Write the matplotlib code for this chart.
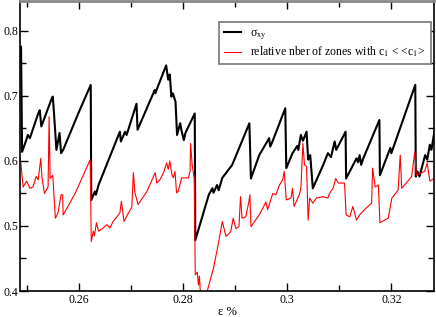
import numpy as np
import matplotlib
matplotlib.use("Agg")
import matplotlib.pyplot as plt
from matplotlib.ticker import MultipleLocator

plt.rcParams['font.family'] = ['Liberation Serif', 'DejaVu Serif']
plt.rcParams['mathtext.fontset'] = 'stix'

# sigma_xy (black)
sig_x = [0.2486, 0.2488, 0.2490, 0.2498, 0.2501, 0.2505, 0.2521, 0.2524, 0.2527, 0.2546,
         0.2549, 0.2551, 0.2556, 0.2562, 0.2565, 0.2569, 0.2598, 0.2622, 0.2623, 0.2630,
         0.2632, 0.2637, 0.2678, 0.2680, 0.2688, 0.2691, 0.2710, 0.2712, 0.2745, 0.2746,
         0.2767, 0.2771, 0.2774, 0.2777, 0.2780, 0.2785, 0.2788, 0.2794, 0.2797, 0.2801,
         0.2804, 0.2822, 0.2823, 0.2849, 0.2856, 0.2858, 0.2865, 0.2868, 0.2875, 0.2894,
         0.2927, 0.2930, 0.2946, 0.2965, 0.2967, 0.2971, 0.2996, 0.2998, 0.3010, 0.3019,
         0.3021, 0.3026, 0.3030, 0.3037, 0.3040, 0.3044, 0.3049, 0.3069, 0.3078, 0.3084,
         0.3091, 0.3094, 0.3112, 0.3113, 0.3133, 0.3136, 0.3139, 0.3142, 0.3146, 0.3177,
         0.3178, 0.3198, 0.3200, 0.3246, 0.3247, 0.3250, 0.3254, 0.3265, 0.3269, 0.3274,
         0.3277, 0.3284]
sig_y = [0.766, 0.776, 0.614, 0.632, 0.640, 0.635, 0.673, 0.678, 0.653, 0.694,
         0.699, 0.678, 0.617, 0.643, 0.612, 0.617, 0.673, 0.717, 0.540, 0.553,
         0.548, 0.563, 0.645, 0.630, 0.645, 0.640, 0.688, 0.648, 0.709, 0.704,
         0.747, 0.725, 0.733, 0.699, 0.704, 0.691, 0.640, 0.658, 0.645, 0.632,
         0.643, 0.673, 0.478, 0.548, 0.558, 0.551, 0.563, 0.555, 0.574, 0.594,
         0.658, 0.573, 0.609, 0.635, 0.622, 0.629, 0.681, 0.589, 0.612, 0.623,
         0.617, 0.640, 0.631, 0.645, 0.602, 0.609, 0.558, 0.594, 0.612, 0.606,
         0.630, 0.617, 0.645, 0.573, 0.604, 0.598, 0.609, 0.594, 0.604, 0.663,
         0.578, 0.620, 0.612, 0.717, 0.576, 0.584, 0.576, 0.609, 0.602, 0.625,
         0.617, 0.651]

# relative number of zones (red)
rel_x = [0.2486, 0.2488, 0.2492, 0.2499, 0.2505, 0.2511, 0.2517, 0.2521, 0.2526, 0.2528,
         0.2533, 0.2540, 0.2542, 0.2544, 0.2549, 0.2554, 0.2559, 0.2565, 0.2568, 0.2569,
         0.2592, 0.2621, 0.2623, 0.2627, 0.2629, 0.2633, 0.2637, 0.2646, 0.2653, 0.2659,
         0.2665, 0.2678, 0.2681, 0.2686, 0.2691, 0.2701, 0.2704, 0.2707, 0.2713, 0.2730,
         0.2746, 0.2749, 0.2755, 0.2762, 0.2768, 0.2771, 0.2774, 0.2778, 0.2781, 0.2784,
         0.2787, 0.2790, 0.2797, 0.2810, 0.2813, 0.2814, 0.2817, 0.2821, 0.2823, 0.2827,
         0.2829, 0.2831, 0.2833, 0.2845, 0.2858, 0.2867, 0.2875, 0.2882, 0.2891, 0.2896,
         0.2901, 0.2907, 0.2910, 0.2913, 0.2920, 0.2926, 0.2928, 0.2930, 0.2946, 0.2959,
         0.2962, 0.2972, 0.2978, 0.2985, 0.2991, 0.2994, 0.2998, 0.3007, 0.3010, 0.3013,
         0.3023, 0.3026, 0.3030, 0.3033, 0.3037, 0.3040, 0.3043, 0.3049, 0.3056, 0.3069,
         0.3078, 0.3081, 0.3088, 0.3093, 0.3098, 0.3110, 0.3113, 0.3120, 0.3126, 0.3133,
         0.3139, 0.3152, 0.3162, 0.3164, 0.3169, 0.3175, 0.3178, 0.3194, 0.3201, 0.3213,
         0.3217, 0.3220, 0.3239, 0.3245, 0.3248, 0.3264, 0.3269, 0.3274, 0.3284]
rel_y = [0.605, 0.594, 0.560, 0.569, 0.558, 0.560, 0.576, 0.571, 0.604, 0.576,
         0.550, 0.560, 0.668, 0.573, 0.578, 0.512, 0.520, 0.548, 0.548, 0.517,
         0.550, 0.602, 0.476, 0.492, 0.485, 0.505, 0.492, 0.497, 0.502, 0.497,
         0.507, 0.520, 0.538, 0.507, 0.515, 0.529, 0.582, 0.551, 0.533, 0.553,
         0.582, 0.566, 0.571, 0.582, 0.597, 0.587, 0.600, 0.579, 0.574, 0.584,
         0.551, 0.553, 0.574, 0.574, 0.584, 0.627, 0.594, 0.573, 0.425, 0.429,
         0.409, 0.423, 0.394, 0.397, 0.435, 0.471, 0.507, 0.484, 0.491, 0.512,
         0.496, 0.499, 0.545, 0.512, 0.514, 0.537, 0.548, 0.499, 0.517, 0.537,
         0.525, 0.550, 0.548, 0.563, 0.571, 0.584, 0.540, 0.543, 0.558, 0.530,
         0.548, 0.558, 0.627, 0.594, 0.591, 0.509, 0.543, 0.535, 0.543, 0.545,
         0.543, 0.550, 0.558, 0.573, 0.566, 0.566, 0.517, 0.514, 0.530, 0.509,
         0.517, 0.528, 0.535, 0.589, 0.560, 0.563, 0.505, 0.512, 0.543, 0.555,
         0.609, 0.558, 0.576, 0.614, 0.578, 0.584, 0.597, 0.569, 0.574]

fig = plt.figure(figsize=(4.36, 3.17), dpi=100)
ax = fig.add_axes([20 / 436, 26 / 317, 414 / 436, 290 / 317])

ax.plot(sig_x, sig_y, color='black', lw=1.5, label=r'σ$_{\mathrm{xy}}$')
ax.plot(rel_x, rel_y, color='#ff0000', lw=0.8,
        label=r'relative nber of zones with c$_{\mathrm{1}}$ < <c$_{\mathrm{1}}$>')

ax.set_xlim(0.2486, 0.3282)
ax.set_ylim(0.4, 0.846)
ax.xaxis.set_minor_locator(MultipleLocator(0.01))
ax.yaxis.set_minor_locator(MultipleLocator(0.05))
ax.set_xticks([0.26, 0.28, 0.30, 0.32])
ax.set_xticklabels(['0.26', '0.28', '0.3', '0.32'])
ax.set_yticks([0.4, 0.5, 0.6, 0.7, 0.8])
ax.set_yticklabels(['0.4', '0.5', '0.6', '0.7', '0.8'])
ax.tick_params(which='both', direction='in', top=True, right=True, labelsize=8.5, pad=2)
ax.tick_params(which='major', length=6, width=1)
ax.tick_params(which='minor', length=4, width=1)
ax.tick_params(axis='y', pad=1)
for s in ax.spines.values():
    s.set_linewidth(1.2)
ax.spines['top'].set_color('#888888')
ax.spines['top'].set_linewidth(2)

ax.set_xlabel('ε %', fontsize=9, labelpad=0)

leg = ax.legend(loc='upper right', bbox_to_anchor=(0.993, 0.928), borderaxespad=0,
                fontsize=8.5, fancybox=False, handlelength=1.4, handletextpad=0.8,
                borderpad=0.45, labelspacing=0.25, framealpha=1)
leg.get_frame().set_edgecolor('#777777')
leg.get_frame().set_linewidth(1.2)

fig.savefig('out.png', dpi=100)
